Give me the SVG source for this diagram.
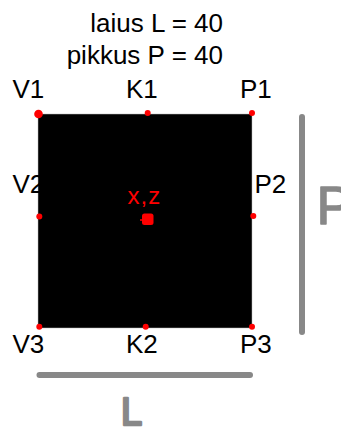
<svg xmlns="http://www.w3.org/2000/svg" width="341" height="428" viewBox="0 0 341 428">
<style>
text{font-family:"Liberation Sans",Arial,sans-serif;}
.lbl{font-size:26px;fill:#000;}
.hd{font-size:26px;fill:#000;}
.dot{fill:#ff0000;}
.dim{stroke:#888;stroke-width:6;stroke-linecap:round;fill:none;}
.big{fill:#888;stroke:#888;stroke-linejoin:round;}
</style>
<rect width="341" height="428" fill="#fff"/>
<g id="title">
<text class="hd" x="223" y="32" text-anchor="end">laius L = 40</text>
<text class="hd" x="223" y="64" text-anchor="end">pikkus P = 40</text>
</g>
<g id="square">
<rect x="38" y="114" width="214" height="214" fill="#000" stroke="#bbb" stroke-width="0.5"/>
</g>
<g id="connectors">
<line class="dim" x1="302" y1="117" x2="302" y2="332"/>
<line class="dim" x1="39.5" y1="375" x2="250" y2="375"/>
</g>
<g id="dimlabels">
<text class="big" x="316.5" y="223.5" font-size="54" stroke-width="1.5">P</text>
<text class="big" x="121" y="424.5" font-size="38" stroke-width="2.5">L</text>
</g>
<g id="V1"><circle class="dot" cx="38.5" cy="114" r="4.3"/><text class="lbl" x="12.5" y="98">V1</text></g>
<g id="K1"><circle class="dot" cx="147.7" cy="113" r="3"/><text class="lbl" x="126" y="98">K1</text></g>
<g id="P1"><circle class="dot" cx="252" cy="113" r="3"/><text class="lbl" x="240" y="98">P1</text></g>
<g id="V2"><circle class="dot" cx="39.3" cy="216.5" r="3"/><text class="lbl" x="12.5" y="193">V2</text></g>
<g id="P2"><circle class="dot" cx="253.3" cy="216" r="3"/><text class="lbl" x="254.5" y="193">P2</text></g>
<g id="V3"><circle class="dot" cx="39.3" cy="326.7" r="3"/><text class="lbl" x="12.5" y="353">V3</text></g>
<g id="K2"><circle class="dot" cx="145.7" cy="326.7" r="3"/><text class="lbl" x="126" y="353">K2</text></g>
<g id="P3"><circle class="dot" cx="252" cy="326.7" r="3"/><text class="lbl" x="240" y="353">P3</text></g>
<g id="center">
<line x1="140" y1="220" x2="143" y2="220" stroke="#ff0000" stroke-width="1.5"/>
<rect x="142" y="213.5" width="11.5" height="11.5" rx="2.5" fill="#ff0000"/>
<text x="127.5" y="203.5" font-size="24" letter-spacing="1" fill="#ff0000">x,z</text>
</g>
</svg>
